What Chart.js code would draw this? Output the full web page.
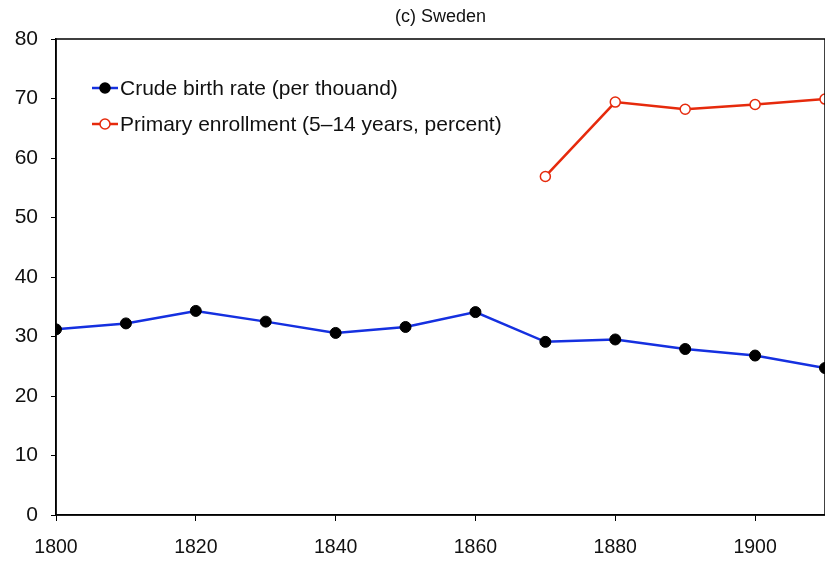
<!DOCTYPE html>
<html>
<head>
<meta charset="utf-8">
<script src="https://cdn.jsdelivr.net/npm/chart.js@4"></script>
<style>
  html, body { margin: 0; padding: 0; background: #fff; }
  #wrap { width: 825px; height: 565px; }
</style>
</head>
<body>
<div id="wrap"><canvas id="chart" width="825" height="565"></canvas></div>
<script>
const TITLE = '(c) Sweden';
const YEARS_BIRTH = [1800, 1810, 1820, 1830, 1840, 1850, 1860, 1870, 1880, 1890, 1900, 1910];
const BIRTH_RATE = [31.2, 32.2, 34.3, 32.5, 30.6, 31.6, 34.1, 29.1, 29.5, 27.9, 26.8, 24.7];
const YEARS_ENROLL = [1870, 1880, 1890, 1900, 1910];
const ENROLLMENT = [56.9, 69.4, 68.2, 69.0, 69.9];
const SERIES_LABELS = ['Crude birth rate (per thouand)', 'Primary enrollment (5\u201314 years, percent)'];
const X_TICKS = [1800, 1820, 1840, 1860, 1880, 1900];

const FONT = 'Liberation Sans, Arial, Helvetica, sans-serif';
const BLUE = '#1530e0';
const RED = '#e62a0c';

// frame, title and in-plot legend
const extras = {
  id: 'extras',
  afterDraw(chart) {
    const { ctx, chartArea: a } = chart;
    ctx.save();
    ctx.strokeStyle = '#000';
    ctx.lineWidth = 1.5;
    ctx.strokeRect(a.left, a.top, a.right - a.left, a.bottom - a.top);

    ctx.fillStyle = '#111';
    ctx.font = '18px ' + FONT;
    ctx.textAlign = 'center';
    ctx.textBaseline = 'middle';
    ctx.fillText(TITLE, (a.left + a.right) / 2, 17);

    const items = [
      { color: BLUE, fill: '#000', stroke: '#000' },
      { color: RED, fill: '#fff', stroke: RED }
    ];
    items.forEach((it, i) => {
      const y = 88 + i * 36;
      ctx.strokeStyle = it.color;
      ctx.lineWidth = 2.5;
      ctx.beginPath();
      ctx.moveTo(92, y);
      ctx.lineTo(118, y);
      ctx.stroke();
      ctx.beginPath();
      ctx.arc(105, y, 5, 0, Math.PI * 2);
      ctx.fillStyle = it.fill;
      ctx.fill();
      ctx.lineWidth = 1.5;
      ctx.strokeStyle = it.stroke;
      ctx.stroke();
      ctx.fillStyle = '#111';
      ctx.textAlign = 'left';
      ctx.font = '21px ' + FONT;
      ctx.fillText(SERIES_LABELS[i], 120, y + 1);
    });
    ctx.restore();
  }
};

new Chart(document.getElementById('chart'), {
  type: 'line',
  data: {
    datasets: [
      {
        label: SERIES_LABELS[0],
        data: YEARS_BIRTH.map((x, i) => ({ x, y: BIRTH_RATE[i] })),
        borderColor: BLUE,
        borderWidth: 2.5,
        pointRadius: 5.5,
        pointBackgroundColor: '#000',
        pointBorderColor: '#000',
        pointBorderWidth: 1,
        tension: 0
      },
      {
        label: SERIES_LABELS[1],
        data: YEARS_ENROLL.map((x, i) => ({ x, y: ENROLLMENT[i] })),
        borderColor: RED,
        borderWidth: 2.5,
        pointRadius: 5,
        pointBackgroundColor: '#fff',
        pointBorderColor: RED,
        pointBorderWidth: 1.5,
        tension: 0
      }
    ]
  },
  options: {
    responsive: false,
    animation: false,
    layout: { autoPadding: false, padding: { top: 39, right: 0, left: 0, bottom: 0 } },
    plugins: {
      legend: { display: false },
      title: { display: false },
      tooltip: { enabled: false }
    },
    scales: {
      x: {
        type: 'linear',
        min: 1800,
        max: 1910,
        afterBuildTicks: axis => { axis.ticks = X_TICKS.map(v => ({ value: v })); },
        afterFit: axis => {
          axis.height = 50;
          axis.paddingRight = 0;
          axis.paddingLeft = 0;
        },
        grid: { display: true, drawOnChartArea: false, tickLength: 6, color: '#000', tickWidth: 1 },
        border: { display: true, color: '#000', width: 1.5 },
        ticks: {
          color: '#111',
          font: { family: FONT, size: 19.5 },
          padding: 15,
          maxRotation: 0,
          callback: v => String(v)
        }
      },
      y: {
        min: 0,
        max: 80,
        afterFit: axis => { axis.width = 56; },
        grid: { display: true, drawOnChartArea: false, tickLength: 5, color: '#000', tickWidth: 1 },
        border: { display: true, color: '#000', width: 1.5 },
        ticks: {
          stepSize: 10,
          color: '#111',
          font: { family: FONT, size: 21 },
          padding: 13
        }
      }
    }
  },
  plugins: [extras]
});
</script>
</body>
</html>
